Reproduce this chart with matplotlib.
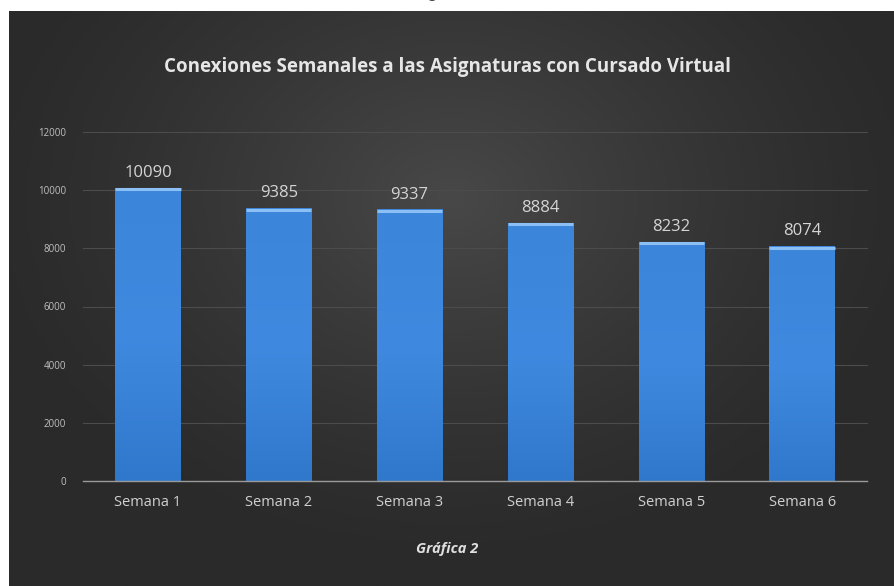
import matplotlib.pyplot as plt
import numpy as np
from matplotlib.colors import LinearSegmentedColormap

semanas = ["Semana 1", "Semana 2", "Semana 3", "Semana 4", "Semana 5", "Semana 6"]
conexiones = [10090, 9385, 9337, 8884, 8232, 8074]
yticks = [0, 2000, 4000, 6000, 8000, 10000, 12000]

titulo = "Conexiones Semanales a las Asignaturas con Cursado Virtual"
pie = "Gráfica 2"

W, H = 894, 586
fig = plt.figure(figsize=(W / 100, H / 100), dpi=100, facecolor="white")

# dark panel with a soft radial light in the middle
bg = fig.add_axes([9 / W, 0, 1 - 9 / W, 1 - 11 / H])
bg.set_axis_off()
gx, gy = np.meshgrid(np.linspace(-1, 1, 400), np.linspace(-1, 1, 300))
r = np.sqrt((gx / 1.1) ** 2 + ((gy + 0.35) / 1.3) ** 2)
shade = np.clip(1 - r, 0, 1) ** 1.3
bg_cmap = LinearSegmentedColormap.from_list("bg", ["#2a2a2a", "#484848"])
bg.imshow(shade, cmap=bg_cmap, aspect="auto", extent=[0, 1, 0, 1], origin="upper")
bg.set_xlim(0, 1)
bg.set_ylim(0, 1)

# descender of the caption sitting above the panel
fig.text(432 / W, 1 + 2 / H, "g", color="#444444", fontsize=12, family="Lato",
         ha="center", va="baseline")

ax = fig.add_axes([82.5 / W, (H - 481) / H, 785 / W, 349 / H])
ax.patch.set_alpha(0)
x = np.arange(len(semanas))
bars = ax.bar(x, conexiones, width=0.5, color="none", zorder=3)

bar_cmap = LinearSegmentedColormap.from_list("bar", ["#3078cc", "#3f8ae0", "#3b85da"])
grad = np.linspace(0, 1, 256).reshape(-1, 1)
for b, v in zip(bars, conexiones):
    x0 = b.get_x()
    im = ax.imshow(grad, cmap=bar_cmap, aspect="auto", origin="lower",
                   extent=[x0, x0 + b.get_width(), 0, v], zorder=3)
    im.set_clip_path(b)
    # light rim at the top of each bar
    ax.plot([x0, x0 + b.get_width()], [v - 60, v - 60], color="#8cc0f5",
            lw=2.2, solid_capstyle="butt", zorder=4)
    ax.annotate(f"{v}", (x0 + b.get_width() / 2, v), xytext=(0, 5),
                textcoords="offset points", ha="center", va="bottom",
                color="#d5d5d5", fontsize=12, family="Open Sans")

ax.set_xlim(-0.5, len(semanas) - 0.5)
ax.set_ylim(0, 12000)
ax.set_yticks(yticks)
ax.set_yticklabels([str(t) for t in yticks], color="#bfbfbf", fontsize=7,
                   family="Open Sans")
ax.set_xticks(x)
ax.set_xticklabels(semanas, color="#d0d0d0", fontsize=10.5, family="Open Sans")
ax.tick_params(axis="both", length=0)
ax.tick_params(axis="y", pad=12)
ax.tick_params(axis="x", pad=10)
ax.grid(axis="y", color="#4c4c4c", lw=0.8, zorder=0)
for s in ["top", "right", "left"]:
    ax.spines[s].set_visible(False)
ax.spines["bottom"].set_color("#9a9a9a")
ax.spines["bottom"].set_linewidth(1.0)
ax.spines["bottom"].set_zorder(5)

fig.text(0.5, 1 - 67 / H, titulo, ha="center", va="center", color="#e6e6e6",
         fontsize=13.5, fontweight="bold", family="Open Sans")
fig.text(0.5, 1 - 549 / H, pie, ha="center", va="center", color="#e0e0e0",
         fontsize=10.5, fontweight="bold", style="italic", family="Open Sans")

fig.savefig("out.png", dpi=100, facecolor="white")
